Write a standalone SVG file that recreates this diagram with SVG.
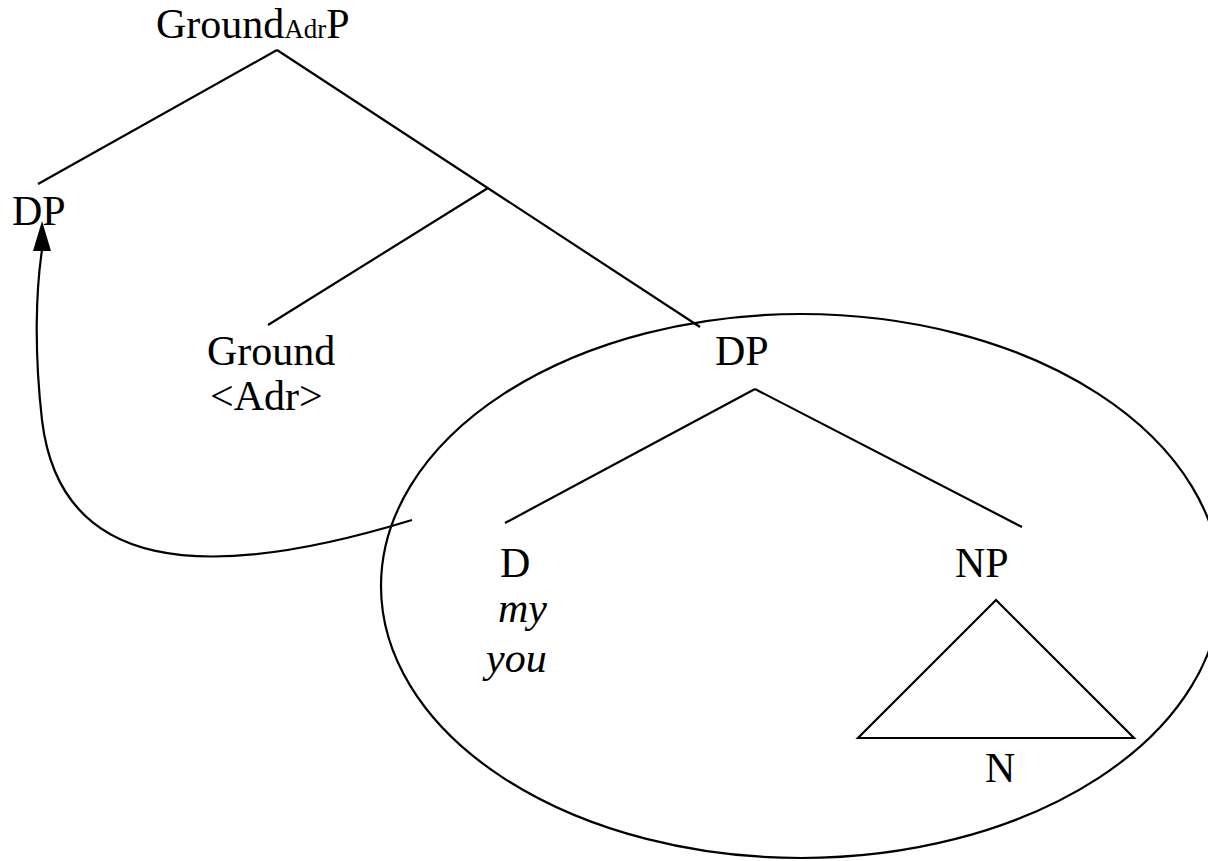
<svg xmlns="http://www.w3.org/2000/svg" width="1208" height="861" viewBox="0 0 1208 861">
<style>
text{font-family:"Times New Roman",Times,"Liberation Serif","Noto Serif","DejaVu Serif",serif;font-size:42px;fill:#000}
.it{font-style:italic}
.ln{stroke:#000;stroke-width:2.2;fill:none}
</style>
<rect width="1208" height="861" fill="#fff"/>
<g id="connectors">
<line class="ln" x1="277" y1="50" x2="38" y2="184"/>
<line class="ln" x1="277" y1="50" x2="700" y2="327"/>
<line class="ln" x1="488" y1="188" x2="268" y2="325"/>
<line class="ln" x1="755" y1="389" x2="505" y2="523"/>
<line class="ln" x1="755" y1="389" x2="1022" y2="527"/>
<polygon class="ln" points="996,600 858,738 1134,738"/>
<path class="ln" d="M412,520 C200,585 60,570 42,420 C34,350 36,290 42,250"/>
<polygon points="42,221 33,251 51,251" fill="#000"/>
</g>
<g id="ellipse"><ellipse class="ln" cx="801" cy="586" rx="420" ry="272"/></g>
<g id="n-groundadrp"><text x="156" y="38">Ground<tspan font-size="27">Adr</tspan>P</text></g>
<g id="n-dp1"><text x="12" y="225">DP</text></g>
<g id="n-ground"><text x="207" y="365">Ground</text><text x="210" y="410">&lt;Adr&gt;</text></g>
<g id="n-dp2"><text x="715" y="365">DP</text></g>
<g id="n-d"><text x="500" y="577">D</text><text class="it" x="498" y="622">my</text><text class="it" x="486" y="672">you</text></g>
<g id="n-np"><text x="955" y="577">NP</text></g>
<g id="n-n"><text x="985" y="782">N</text></g>
</svg>
